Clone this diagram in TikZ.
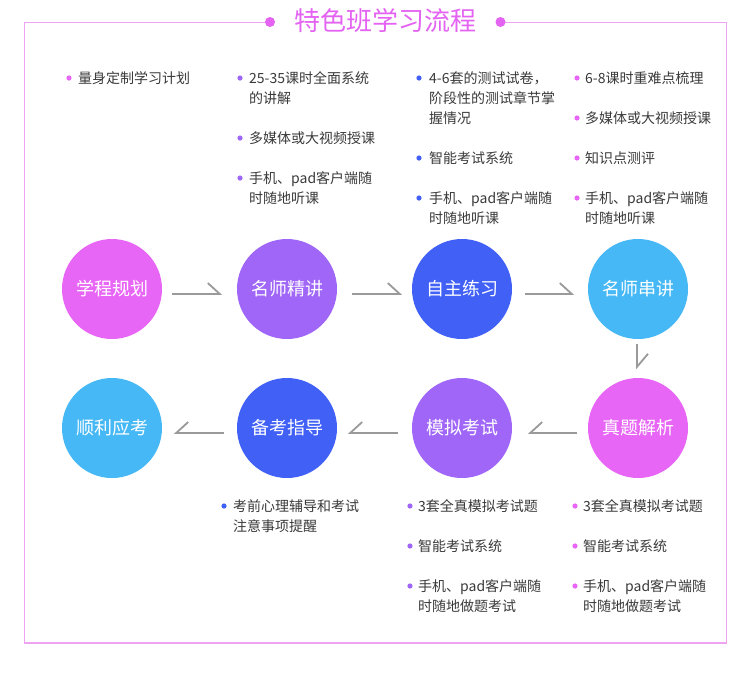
\documentclass[tikz,border=0pt]{standalone}
\usepackage{fontspec}
\setmainfont{Noto Sans CJK SC}
\definecolor{cpink}{HTML}{E866F5}
\definecolor{cpurple}{HTML}{A066F8}
\definecolor{cblue}{HTML}{4060F6}
\definecolor{csky}{HTML}{45B8F5}
\definecolor{frame}{HTML}{EFA3F2}
\definecolor{titlec}{HTML}{E463F2}
\definecolor{txt}{HTML}{3A3A3A}
\definecolor{arr}{HTML}{9A9A9A}
\begin{document}
\begin{tikzpicture}[x=1pt,y=-1pt,
  stepcircle/.style={circle,minimum size=100pt,inner sep=0pt,text=white,font=\fontsize{18}{18}\selectfont},
  line/.style={anchor=west,inner sep=0pt,text=txt,text height=12pt,text depth=2pt,font=\fontsize{14}{14}\selectfont},
  conn/.style={draw=arr,line width=1.8pt,line cap=butt,line join=miter}]
\useasboundingbox (0,0) rectangle (750,673);
\fill[white] (0,0) rectangle (750,673);
% frame
\draw[frame,line width=1.4pt] (270,22.5) -- (24.5,22.5) -- (24.5,643) -- (726.5,643) -- (726.5,22.5) -- (500,22.5);
\fill[titlec] (270,22) circle (5);
\fill[titlec] (500.5,22) circle (5);
\node[text=titlec,font=\fontsize{26}{26}\selectfont,inner sep=0pt] (title) at (385,21) {特色班学习流程};
% circles
\node[stepcircle,fill=cpink] (c1) at (112,289) {学程规划};
\node[stepcircle,fill=cpurple] (c2) at (287,289) {名师精讲};
\node[stepcircle,fill=cblue] (c3) at (462,289) {自主练习};
\node[stepcircle,fill=csky] (c4) at (638,289) {名师串讲};
\node[stepcircle,fill=cpink] (c5) at (638,428) {真题解析};
\node[stepcircle,fill=cpurple] (c6) at (462,428) {模拟考试};
\node[stepcircle,fill=cblue] (c7) at (287,428) {备考指导};
\node[stepcircle,fill=csky] (c8) at (112,428) {顺利应考};
% connectors
\draw[conn] ([shift={(10,5)}]c1.east) -- ([shift={(-17,5)}]c2.west) -- ++(-12,-11);
\draw[conn] ([shift={(15,5)}]c2.east) -- ([shift={(-12,5)}]c3.west) -- ++(-12,-11);
\draw[conn] ([shift={(13,5)}]c3.east) -- ([shift={(-16,5)}]c4.west) -- ++(-12,-11);
\draw[conn] ([shift={(-1,5)}]c4.south) -- ([shift={(-1,-11)}]c5.north) -- ++(11,-13);
\draw[conn] ([shift={(-11,5)}]c5.west) -- ([shift={(18,5)}]c6.east) -- ++(12,-11);
\draw[conn] ([shift={(-14,5)}]c6.west) -- ([shift={(13,5)}]c7.east) -- ++(12,-11);
\draw[conn] ([shift={(-13,5)}]c7.west) -- ([shift={(14,5)}]c8.east) -- ++(12,-11);
% top texts
\fill[cpink] (69,78) circle (2.6);
\node[line] (t1a) at (78,78) {量身定制学习计划};

\fill[cpurple] (240,78) circle (2.6);
\node[line] (t2a) at (249,78) {25-35课时全面系统};
\node[line] (t2b) at (249,98) {的讲解};
\fill[cpurple] (240,138) circle (2.6);
\node[line] (t2c) at (249,138) {多媒体或大视频授课};
\fill[cpurple] (240,178) circle (2.6);
\node[line] (t2d) at (249,178) {手机、pad客户端随};
\node[line] (t2e) at (249,198) {时随地听课};

\fill[cblue] (419,78) circle (2.6);
\node[line] (t3a) at (429,78) {4-6套的测试试卷，};
\node[line] (t3b) at (429,98) {阶段性的测试章节掌};
\node[line] (t3c) at (429,118) {握情况};
\fill[cblue] (419,158) circle (2.6);
\node[line] (t3d) at (429,158) {智能考试系统};
\fill[cblue] (419,198) circle (2.6);
\node[line] (t3e) at (429,198) {手机、pad客户端随};
\node[line] (t3f) at (429,218) {时随地听课};

\fill[cpink] (577,78) circle (2.6);
\node[line] (t4a) at (585,78) {6-8课时重难点梳理};
\fill[cpink] (577,118) circle (2.6);
\node[line] (t4b) at (585,118) {多媒体或大视频授课};
\fill[cpink] (577,158) circle (2.6);
\node[line] (t4c) at (585,158) {知识点测评};
\fill[cpink] (577,198) circle (2.6);
\node[line] (t4d) at (585,198) {手机、pad客户端随};
\node[line] (t4e) at (585,218) {时随地听课};
% bottom texts
\fill[cblue] (224,506) circle (2.6);
\node[line] (b1a) at (233,506) {考前心理辅导和考试};
\node[line] (b1b) at (233,526) {注意事项提醒};

\fill[cpurple] (410,506) circle (2.6);
\node[line] (b2a) at (418,506) {3套全真模拟考试题};
\fill[cpurple] (410,546) circle (2.6);
\node[line] (b2b) at (418,546) {智能考试系统};
\fill[cpurple] (410,586) circle (2.6);
\node[line] (b2c) at (418,586) {手机、pad客户端随};
\node[line] (b2d) at (418,606) {时随地做题考试};

\fill[cpink] (575,506) circle (2.6);
\node[line] (b3a) at (583,506) {3套全真模拟考试题};
\fill[cpink] (575,546) circle (2.6);
\node[line] (b3b) at (583,546) {智能考试系统};
\fill[cpink] (575,586) circle (2.6);
\node[line] (b3c) at (583,586) {手机、pad客户端随};
\node[line] (b3d) at (583,606) {时随地做题考试};
\end{tikzpicture}
\end{document}
